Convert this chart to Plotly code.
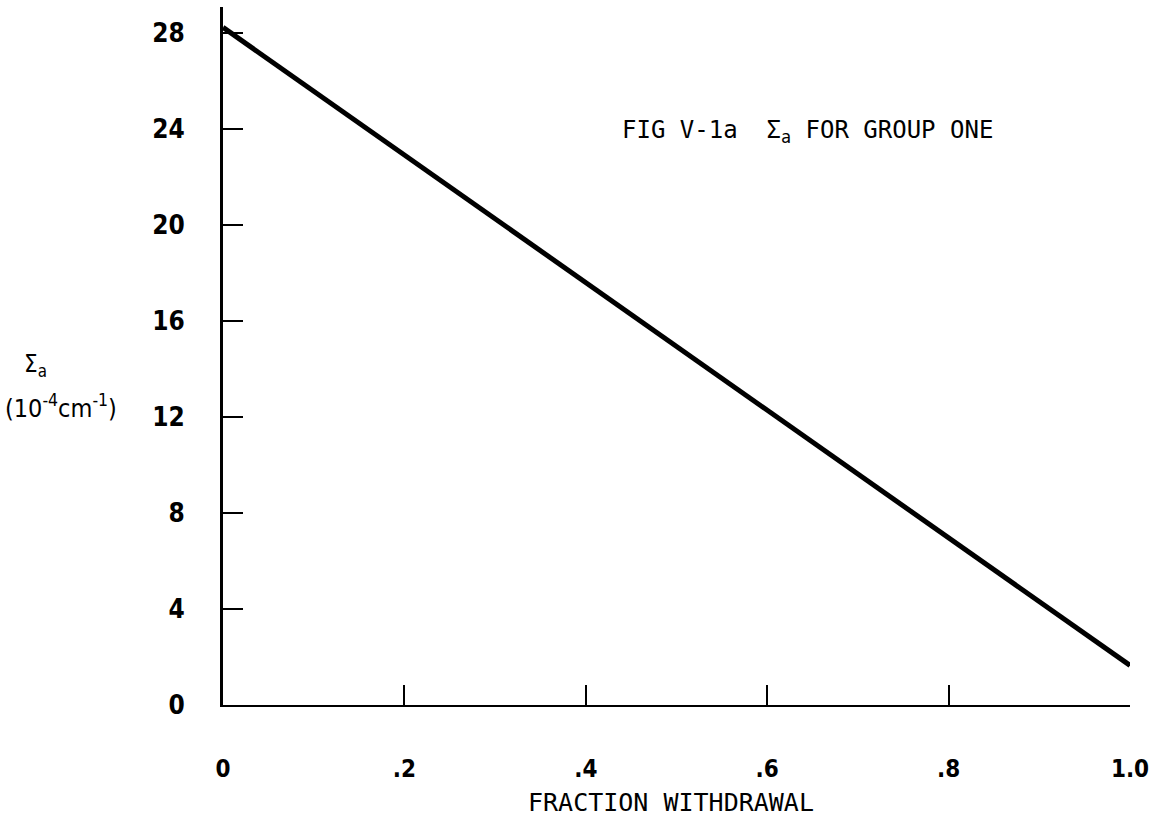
import plotly.graph_objects as go

fraction = [0.0, 1.0]
sigma_a = [28.25, 1.65]

x_tick_vals = [0, 0.2, 0.4, 0.6, 0.8, 1.0]
x_tick_text = ["0", ".2", ".4", ".6", ".8", "1.0"]
y_tick_vals = [0, 4, 8, 12, 16, 20, 24, 28]
y_tick_text = ["0", "4", "8", "12", "16", "20", "24", "28"]

tick_font = "DejaVu Sans Condensed, Liberation Sans Narrow, Arial Narrow, sans-serif"
mono_font = "DejaVu Sans Mono, Liberation Mono, monospace"

fig = go.Figure()
fig.add_trace(go.Scatter(
    x=fraction, y=sigma_a, mode="lines",
    line=dict(color="black", width=5),
    showlegend=False, hoverinfo="skip",
))

fig.update_layout(
    width=1166, height=819,
    margin=dict(l=223, r=36, t=7, b=114),
    paper_bgcolor="white", plot_bgcolor="white",
    xaxis=dict(
        range=[0, 1.0], tickvals=x_tick_vals, ticktext=x_tick_text,
        showgrid=False, zeroline=False,
        showline=True, linecolor="black", linewidth=2,
        ticks="inside", ticklen=20, tickwidth=2, tickcolor="black",
        ticklabelstandoff=41,
        tickfont=dict(family=tick_font, size=24, color="black", weight="bold"),
    ),
    yaxis=dict(
        range=[0, 29.1], tickvals=y_tick_vals, ticktext=y_tick_text,
        showgrid=False, zeroline=False,
        showline=True, linecolor="black", linewidth=3,
        ticks="inside", ticklen=20, tickwidth=2, tickcolor="black",
        ticklabelstandoff=30,
        tickfont=dict(family=tick_font, size=26, color="black", weight="bold"),
    ),
)

W, H = 1166 - 223 - 36, 819 - 7 - 114
def px(xp):
    return (xp - 223) / W
def py(yp):
    return (819 - 114 - yp) / H

fig.add_annotation(text="FIG V-1a  Σ<sub>a</sub> FOR GROUP ONE",
                   x=px(620), y=py(131), xref="paper", yref="paper",
                   xanchor="left", yanchor="middle", showarrow=False,
                   font=dict(family=mono_font, size=24, color="black"))
fig.add_annotation(text="FRACTION WITHDRAWAL",
                   x=px(671), y=py(802), xref="paper", yref="paper",
                   xanchor="center", yanchor="middle", showarrow=False,
                   font=dict(family=mono_font, size=25, color="black"))
fig.add_annotation(text="Σ<sub>a</sub>",
                   x=px(35), y=py(365), xref="paper", yref="paper",
                   xanchor="center", yanchor="middle", showarrow=False,
                   font=dict(family=tick_font, size=24, color="black"))
fig.add_annotation(text="(10<sup>-4</sup>cm<sup>-1</sup>)",
                   x=px(61), y=py(406), xref="paper", yref="paper",
                   xanchor="center", yanchor="middle", showarrow=False,
                   font=dict(family=tick_font, size=25, color="black"))

fig.write_html("out.html")
